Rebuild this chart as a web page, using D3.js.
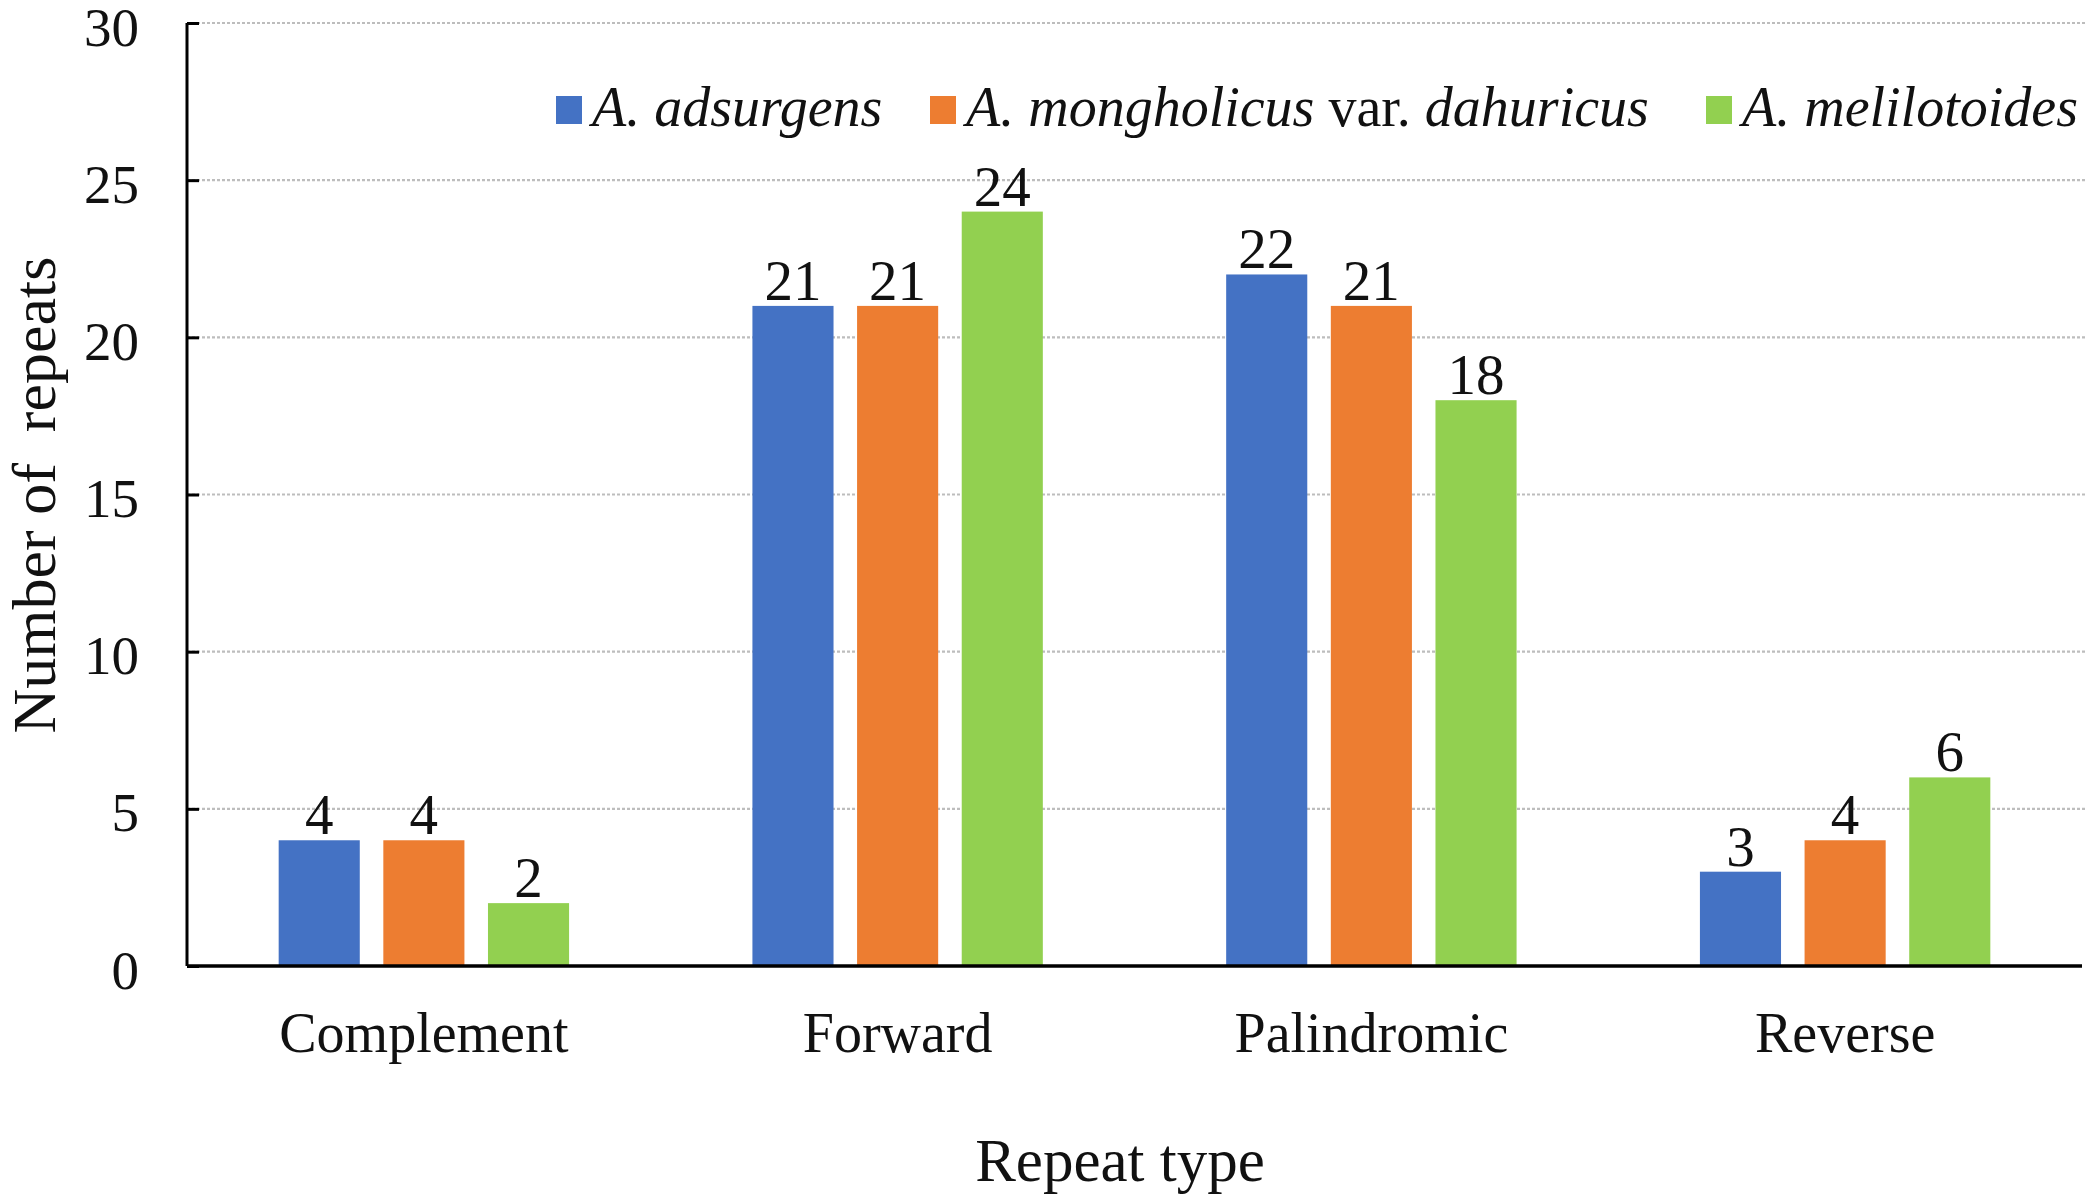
<!DOCTYPE html>
<html>
<head>
<meta charset="utf-8">
<script src="https://cdn.jsdelivr.net/npm/d3@7"></script>
<style>
  html, body { margin: 0; padding: 0; background: #fff; }
  svg text { font-family: "Liberation Serif", "Times New Roman", serif; fill: #111; }
</style>
</head>
<body>
<svg id="chart" width="2092" height="1204"></svg>
<script>
const categories = ["Complement", "Forward", "Palindromic", "Reverse"];
const seriesNames = ["A. adsurgens", "A. mongholicus var. dahuricus", "A. melilotoides"];
const adsurgens   = [4, 21, 22, 3];
const mongholicus = [4, 21, 21, 4];
const melilotoides = [2, 24, 18, 6];
const yTicks = [0, 5, 10, 15, 20, 25, 30];
const colors = ["#4472C4", "#ED7D31", "#92D050"];

const seriesValues = [adsurgens, mongholicus, melilotoides];

const svg = d3.select("#chart");
const mLeft = 187, mRight = 2082, mTop = 23, mBottom = 966;

const x0 = d3.scaleBand().domain(categories).range([mLeft, mRight])
  .paddingInner(0.387).paddingOuter(0.1935);
const x1 = d3.scaleBand().domain(d3.range(seriesNames.length)).range([0, x0.bandwidth()])
  .paddingInner(0.225).paddingOuter(0);
const y = d3.scaleLinear().domain([0, 30]).range([mBottom, mTop]);

// gridlines
svg.append("g").selectAll("line").data(yTicks.filter(d => d > 0)).join("line")
  .attr("x1", mLeft).attr("x2", mRight + 3)
  .attr("y1", d => y(d)).attr("y2", d => y(d))
  .attr("stroke", "#bdbdbd").attr("stroke-width", 2.2).attr("stroke-dasharray", "3,2");

// bars
const groups = svg.append("g").selectAll("g").data(categories).join("g")
  .attr("transform", d => `translate(${x0(d)},0)`);
groups.selectAll("rect").data((c, ci) => seriesValues.map((vals, si) => ({si, v: vals[ci]})))
  .join("rect")
  .attr("x", d => x1(d.si)).attr("width", x1.bandwidth())
  .attr("y", d => y(d.v)).attr("height", d => y(0) - y(d.v))
  .attr("fill", d => colors[d.si]);
groups.selectAll("text").data((c, ci) => seriesValues.map((vals, si) => ({si, v: vals[ci]})))
  .join("text")
  .attr("x", d => x1(d.si) + x1.bandwidth() / 2)
  .attr("y", d => y(d.v) - 6)
  .attr("text-anchor", "middle").attr("font-size", 57)
  .text(d => d.v);

// y axis
const yAxis = d3.axisLeft(y).tickValues(yTicks).tickSize(-12).tickPadding(48).tickFormat(d3.format("d"));
const gy = svg.append("g").attr("transform", `translate(${mLeft},0)`).call(yAxis);
gy.select(".domain").attr("stroke", "#000").attr("stroke-width", 3).attr("d", `M0,${mTop}V${mBottom}`);
gy.selectAll(".tick line").attr("stroke", "#000").attr("stroke-width", 3);
gy.selectAll(".tick text").attr("font-size", 55).attr("font-family", "Liberation Serif").attr("fill", "#111").attr("dy", "0.4em");

// x axis
const xAxis = d3.axisBottom(x0).tickSize(0).tickPadding(46);
const gx = svg.append("g").attr("transform", `translate(0,${mBottom})`).call(xAxis);
gx.select(".domain").attr("stroke", "#000").attr("stroke-width", 3.5).attr("d", `M${mLeft},0H${mRight}`);
gx.selectAll(".tick text").attr("font-size", 56).attr("font-family", "Liberation Serif").attr("fill", "#111").attr("dy", "0.71em");

// axis titles
svg.append("text").attr("x", 1120).attr("y", 1181)
  .attr("text-anchor", "middle").attr("font-size", 61).text("Repeat type");
svg.append("text").attr("transform", `translate(55,495) rotate(-90)`)
  .attr("text-anchor", "middle").attr("font-size", 62).attr("xml:space", "preserve").text("Number of  repeats");

// legend
const legendItems = [
  {x: 556, parts: [["A. adsurgens", true]]},
  {x: 930, parts: [["A. mongholicus", true], [" var. ", false], ["dahuricus", true]]},
  {x: 1706, parts: [["A. melilotoides", true]]}
];
const lg = svg.append("g").selectAll("g").data(legendItems).join("g")
  .attr("transform", d => `translate(${d.x},0)`);
lg.append("rect").attr("x", 0).attr("y", 96).attr("width", 26).attr("height", 28)
  .attr("fill", (d, i) => colors[i]);
lg.append("text").attr("x", 36).attr("y", 126).attr("font-size", 56)
  .attr("xml:space", "preserve")
  .selectAll("tspan").data(d => d.parts).join("tspan")
  .attr("font-style", p => p[1] ? "italic" : "normal")
  .text(p => p[0]);
</script>
</body>
</html>
